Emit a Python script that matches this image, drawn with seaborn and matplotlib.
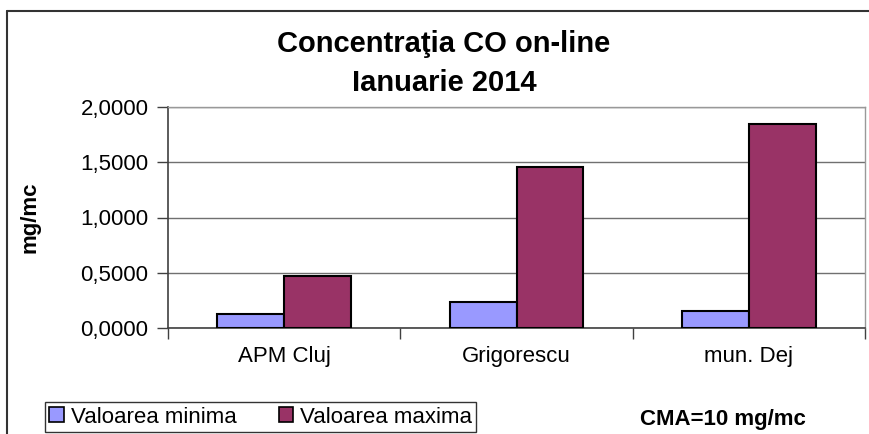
import matplotlib
matplotlib.use('Agg')
import seaborn as sns
import matplotlib.pyplot as plt
import pandas as pd
from matplotlib.ticker import FuncFormatter, FixedLocator
from matplotlib.lines import Line2D

statii = ['APM Cluj', 'Grigorescu', 'mun. Dej']
val_min = [0.123, 0.235, 0.154]
val_max = [0.469, 1.461, 1.846]
serii = ['Valoarea minima', 'Valoarea maxima']

df = pd.DataFrame({
    'statie': statii * 2,
    'valoare': val_min + val_max,
    'serie': [serii[0]] * 3 + [serii[1]] * 3,
})

sns.set_style('white')
plt.rcParams['font.family'] = ['Liberation Sans', 'DejaVu Sans']
plt.rcParams['text.color'] = 'black'

fig = plt.figure(figsize=(8.69, 4.34), dpi=100)
ax = fig.add_axes([168/869, 1-328/434, (865-168)/869, (328-107)/434])

sns.barplot(data=df, x='statie', y='valoare', hue='serie',
            palette=['#9999FF', '#993366'], saturation=1, width=0.575,
            edgecolor='black', linewidth=1.5, ax=ax, zorder=3)
ax.legend_.remove()

ax.set_ylim(0, 2)
ax.set_xlim(-0.5, 2.5)
ax.yaxis.set_major_locator(FixedLocator([0, 0.5, 1.0, 1.5, 2.0]))
ax.yaxis.set_major_formatter(FuncFormatter(lambda v, p: f'{v:.4f}'.replace('.', ',')))
ax.yaxis.grid(True, color='#707070', lw=1, zorder=0)
ax.set_axisbelow(True)

ax.tick_params(axis='y', direction='out', length=8, width=1, color='#404040',
               labelsize=16, pad=6, left=True, labelcolor='black')
ax.tick_params(axis='x', which='major', length=0, labelsize=16, pad=13,
               labelcolor='black')
ax.set_xticks([-0.5, 0.5, 1.5, 2.5], minor=True)
ax.tick_params(axis='x', which='minor', direction='out', length=8, width=1,
               color='#404040', bottom=True)
ax.set_xlabel('')
ax.set_ylabel('')

for side in ['top', 'right']:
    ax.spines[side].set_color('#999999')
    ax.spines[side].set_linewidth(1)
for side in ['left', 'bottom']:
    ax.spines[side].set_color('#404040')
    ax.spines[side].set_linewidth(1.2)

fig.text(444/869, 1-52/434, 'Concentraţia CO on-line', ha='center', va='baseline',
         fontsize=21, fontweight='bold')
fig.text(444/869, 1-91/434, 'Ianuarie 2014', ha='center', va='baseline',
         fontsize=21, fontweight='bold')
fig.text(30/869, 1-217/434, 'mg/mc', rotation=90, ha='center', va='center',
         fontsize=16, fontweight='bold')
fig.text(723/869, 1-420/434, 'CMA=10 mg/mc', ha='center', va='center',
         fontsize=16, fontweight='bold')

handles = [plt.Rectangle((0, 0), 1, 1, facecolor=c, edgecolor='black', lw=1.2)
           for c in ['#9999FF', '#993366']]
leg = fig.legend(handles, serii, loc='lower left',
                 bbox_to_anchor=(45/869, 2/434), ncol=2, fontsize=16,
                 frameon=True, fancybox=False, edgecolor='black',
                 handlelength=0.65, handleheight=0.65, handletextpad=0.3,
                 columnspacing=1.9, borderpad=0.2, borderaxespad=0)
leg.get_frame().set_linewidth(1)

fig.add_artist(Line2D([7/869, 7/869], [0, 1-11/434], color='#333333', lw=1.5,
                      transform=fig.transFigure))
fig.add_artist(Line2D([7/869, 1], [1-11/434, 1-11/434], color='#333333', lw=1.5,
                      transform=fig.transFigure))

fig.savefig('out.png', dpi=100)
